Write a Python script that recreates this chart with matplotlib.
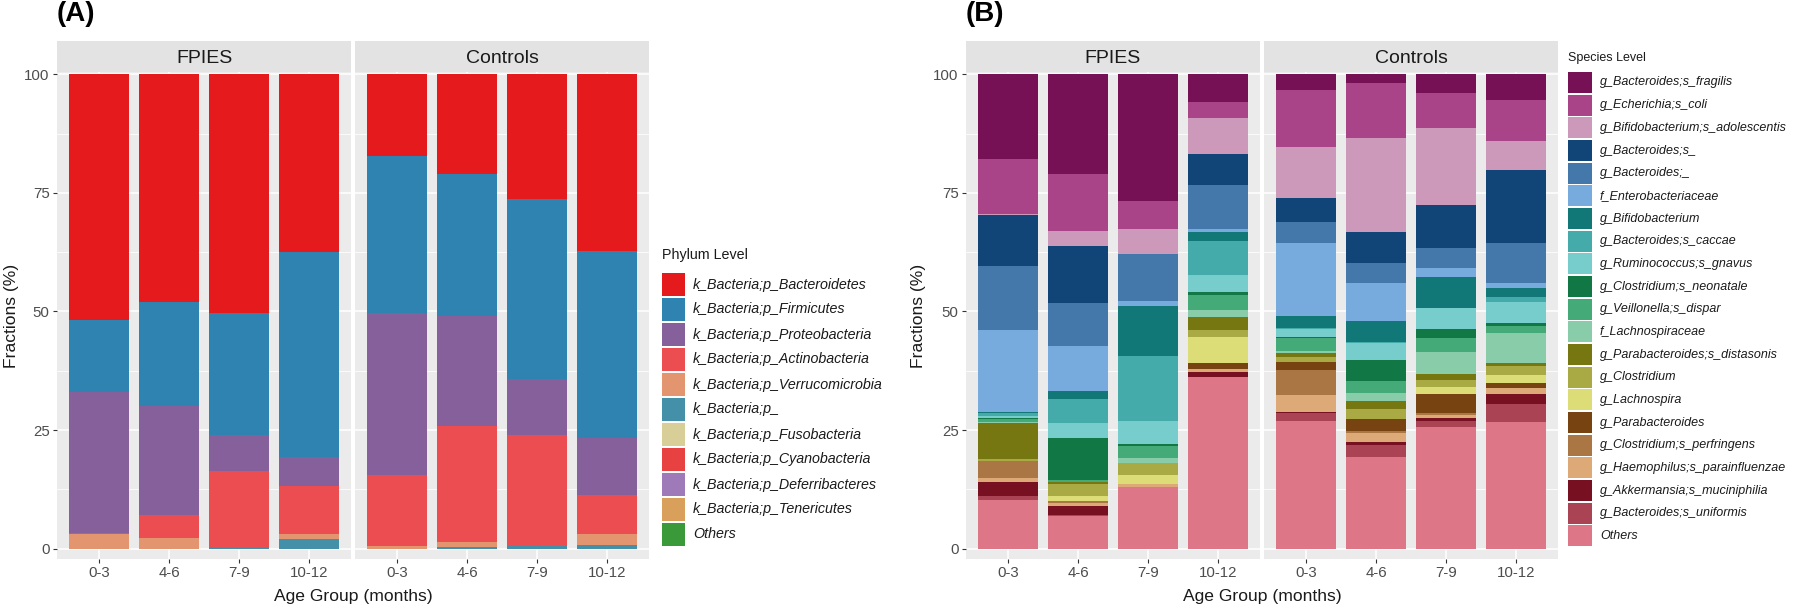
import numpy as np
import matplotlib
matplotlib.use('Agg')
import matplotlib.pyplot as plt
from matplotlib.patches import Rectangle

plt.rcParams['font.family'] = ['Liberation Sans', 'DejaVu Sans']

# x categories and facets
age_groups = ['0-3', '4-6', '7-9', '10-12']
facet_names = ['FPIES', 'Controls']

# Panel A: phylum level (legend order = stack order from top)
phylum_labels = ['k_Bacteria;p_Bacteroidetes', 'k_Bacteria;p_Firmicutes',
                 'k_Bacteria;p_Proteobacteria', 'k_Bacteria;p_Actinobacteria',
                 'k_Bacteria;p_Verrucomicrobia', 'k_Bacteria;p_',
                 'k_Bacteria;p_Fusobacteria', 'k_Bacteria;p_Cyanobacteria',
                 'k_Bacteria;p_Deferribacteres', 'k_Bacteria;p_Tenericutes', 'Others']
phylum_colors = ['#E41A1C', '#2E83B0', '#85609A', '#EB4D50', '#E2956F', '#4490A8',
                 '#D8CE98', '#E84141', '#9E7BB8', '#D9A05B', '#3A9A3A']
phylum_fpies = [
    [51.8, 48.1, 50.3, 37.5],
    [15.2, 21.9, 25.7, 43.1],
    [29.7, 23.0, 7.6, 6.3],
    [0.3, 4.8, 16.1, 10.1],
    [3.0, 2.2, 0.0, 0.9],
    [0.0, 0.0, 0.3, 2.1],
    [0.0, 0.0, 0.0, 0.0],
    [0.0, 0.0, 0.0, 0.0],
    [0.0, 0.0, 0.0, 0.0],
    [0.0, 0.0, 0.0, 0.0],
    [0.0, 0.0, 0.0, 0.0],
]
phylum_controls = [
    [17.3, 21.0, 26.2, 37.2],
    [33.1, 30.0, 38.1, 39.4],
    [34.0, 23.1, 11.7, 12.0],
    [15.0, 24.6, 23.4, 8.4],
    [0.6, 0.9, 0.1, 2.2],
    [0.0, 0.4, 0.5, 0.8],
    [0.0, 0.0, 0.0, 0.0],
    [0.0, 0.0, 0.0, 0.0],
    [0.0, 0.0, 0.0, 0.0],
    [0.0, 0.0, 0.0, 0.0],
    [0.0, 0.0, 0.0, 0.0],
]

# Panel B: species level
species_labels = ['g_Bacteroides;s_fragilis', 'g_Echerichia;s_coli',
                  'g_Bifidobacterium;s_adolescentis', 'g_Bacteroides;s_',
                  'g_Bacteroides;_', 'f_Enterobacteriaceae', 'g_Bifidobacterium',
                  'g_Bacteroides;s_caccae', 'g_Ruminococcus;s_gnavus',
                  'g_Clostridium;s_neonatale', 'g_Veillonella;s_dispar',
                  'f_Lachnospiraceae', 'g_Parabacteroides;s_distasonis',
                  'g_Clostridium', 'g_Lachnospira', 'g_Parabacteroides',
                  'g_Clostridium;s_perfringens', 'g_Haemophilus;s_parainfluenzae',
                  'g_Akkermansia;s_muciniphilia', 'g_Bacteroides;s_uniformis', 'Others']
species_colors = ['#771155', '#AA4488', '#CC99BB', '#114477', '#4477AA', '#77AADD',
                  '#117777', '#44AAAA', '#77CCCC', '#117744', '#44AA77', '#88CCAA',
                  '#777711', '#AAAA44', '#DDDD77', '#774411', '#AA7744', '#DDAA77',
                  '#771122', '#AA4455', '#DD7788']
species_fpies = [
    [17.9, 21.0, 26.6, 5.9],
    [11.5, 12.0, 6.0, 3.2],
    [0.3, 3.1, 5.3, 7.6],
    [10.7, 12.2, 0.0, 6.6],
    [13.5, 8.9, 9.8, 9.4],
    [17.3, 9.6, 1.2, 0.5],
    [0.3, 1.7, 10.5, 1.9],
    [0.5, 5.1, 13.6, 7.2],
    [0.5, 3.1, 5.0, 3.5],
    [0.1, 8.8, 0.4, 0.7],
    [0.8, 0.5, 2.4, 3.2],
    [0.2, 0.0, 1.1, 1.5],
    [7.6, 0.3, 0.0, 2.7],
    [0.3, 2.6, 2.6, 1.4],
    [0.0, 1.0, 1.9, 5.6],
    [0.0, 0.0, 0.0, 1.2],
    [3.6, 0.5, 0.0, 0.0],
    [0.8, 0.6, 0.6, 0.7],
    [3.1, 1.9, 0.0, 1.1],
    [0.7, 0.3, 0.0, 0.0],
    [10.3, 6.8, 13.0, 36.1],
]
species_controls = [
    [3.3, 1.8, 3.9, 5.4],
    [12.0, 11.6, 7.5, 8.7],
    [10.8, 19.9, 16.2, 6.1],
    [5.0, 6.4, 9.1, 15.4],
    [4.4, 4.4, 4.1, 8.5],
    [15.5, 7.9, 1.9, 0.9],
    [2.4, 4.4, 6.6, 1.9],
    [0.2, 0.2, 0.0, 1.0],
    [1.8, 3.6, 4.5, 4.6],
    [0.3, 4.5, 1.9, 0.5],
    [2.6, 2.4, 2.8, 1.5],
    [0.4, 1.8, 4.7, 6.3],
    [0.8, 1.7, 1.3, 0.7],
    [1.1, 2.1, 1.5, 1.8],
    [0.1, 0.0, 1.5, 1.8],
    [1.6, 2.5, 4.0, 1.1],
    [5.3, 0.5, 0.3, 0.0],
    [3.6, 1.8, 0.7, 1.3],
    [0.3, 0.7, 0.5, 2.0],
    [1.5, 2.4, 1.3, 3.9],
    [27.0, 19.4, 25.7, 26.6],
]

W, H = 1800, 608
fig = plt.figure(figsize=(W / 100, H / 100), dpi=100)

PANEL_TOP, PANEL_BOT = 72, 559
STRIP_TOP = 41
STRIP_COLOR = '#E3E3E3'


def px_box(x0, y0, x1, y1):
    # pixel box (origin top-left) -> figure fraction rect
    return [x0 / W, 1 - y1 / H, (x1 - x0) / W, (y1 - y0) / H]


def draw_facet(left, right, table, colors, title, show_y):
    ax = fig.add_axes(px_box(left, PANEL_TOP, right, PANEL_BOT))
    ax.set_facecolor('#EBEBEB')
    x = np.arange(len(age_groups))
    vals = np.array(table)
    bottom = np.zeros(len(age_groups))
    # ggplot stacks the first level on top
    for row, col in zip(vals[::-1], colors[::-1]):
        ax.bar(x, row, 0.85, bottom=bottom, color=col, linewidth=0, zorder=3)
        bottom += row
    ax.set_xlim(-0.6, 3.6)
    ax.set_ylim(-2.2, 100.5)
    ax.set_yticks([0, 25, 50, 75, 100])
    ax.set_yticks([12.5, 37.5, 62.5, 87.5], minor=True)
    ax.set_xticks(x)
    ax.set_xticklabels(age_groups)
    ax.grid(which='major', color='white', lw=1.1, zorder=0)
    ax.grid(which='minor', axis='y', color='white', lw=0.55, zorder=0)
    ax.set_axisbelow(True)
    for s in ax.spines.values():
        s.set_visible(False)
    ax.tick_params(which='major', length=2.75, width=0.8, color='#333333',
                   labelsize=10.8, labelcolor='#4D4D4D', pad=2.5)
    ax.tick_params(which='minor', length=0)
    if not show_y:
        ax.tick_params(axis='y', left=False, labelleft=False)

    sax = fig.add_axes(px_box(left, STRIP_TOP, right, PANEL_TOP))
    sax.set_facecolor(STRIP_COLOR)
    sax.set_xticks([])
    sax.set_yticks([])
    for s in sax.spines.values():
        s.set_visible(False)
    sax.text(0.5, 0.45, title, ha='center', va='center', fontsize=14,
             color='#1A1A1A', transform=sax.transAxes)
    return ax


def draw_legend(x, title_y, first_top, step, key_w, key_h, title, labels, colors, fs):
    fig.text(x / W, 1 - title_y / H, title,
             ha='left', va='center', fontsize=fs, color='#1A1A1A')
    for i, (lab, col) in enumerate(zip(labels, colors)):
        top = first_top + i * step
        fig.add_artist(Rectangle((x / W, 1 - (top + key_h) / H), key_w / W, key_h / H,
                                 transform=fig.transFigure, facecolor=col,
                                 edgecolor='none'))
        fig.text((x + key_w + 8) / W, 1 - (top + key_h / 2) / H, lab,
                 ha='left', va='center', fontsize=fs, style='italic', color='#1A1A1A')


# Panel A
draw_facet(57, 351, phylum_fpies, phylum_colors, facet_names[0], True)
draw_facet(355, 649, phylum_controls, phylum_colors, facet_names[1], False)
# Panel B
draw_facet(966, 1260, species_fpies, species_colors, facet_names[0], True)
draw_facet(1264, 1558, species_controls, species_colors, facet_names[1], False)

mid_y = (PANEL_TOP + PANEL_BOT) / 2
for xl, xc, tag, xt in [(12, 353, '(A)', 57), (919, 1262, '(B)', 966)]:
    fig.text(xl / W, 1 - mid_y / H, 'Fractions (%)', rotation=90, ha='center',
             va='center', fontsize=12.6, color='#1A1A1A')
    fig.text(xc / W, 1 - 597 / H, 'Age Group (months)', ha='center', va='center',
             fontsize=12.6, color='#1A1A1A')
    fig.text(xt / W, 1 - 14 / H, tag, ha='left', va='center', fontsize=20,
             fontweight='bold', color='black')

draw_legend(662, 255, 273, 25, 23, 23, 'Phylum Level', phylum_labels, phylum_colors, 10.3)
draw_legend(1568, 58, 72, 22.67, 24, 21, 'Species Level', species_labels, species_colors, 9.0)

fig.savefig('out.png', dpi=100, facecolor='white')
